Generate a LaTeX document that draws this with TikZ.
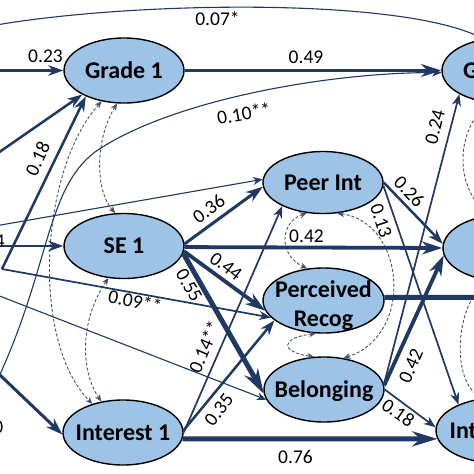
\documentclass[tikz,border=0pt]{standalone}
\usepackage{fontspec}
\setmainfont{Carlito}
\usetikzlibrary{arrows.meta,shapes.geometric}
\definecolor{lnavy}{HTML}{1F3864}
\definecolor{ellfill}{HTML}{9DC3E6}
\definecolor{covc}{HTML}{44546A}
\tikzset{
  var/.style={ellipse, draw=black, line width=1.4pt, fill=ellfill, inner sep=0pt,
    minimum width=120pt, minimum height=65pt,
    font=\fontsize{24}{29}\selectfont\bfseries, text height=15.5pt, text depth=0pt},
  vtext/.style={font=\fontsize{24}{29}\selectfont\bfseries, inner sep=0pt, align=center},
  lab/.style={font=\fontsize{19.5}{23}\selectfont, inner sep=0pt, text height=12.3pt, text depth=0pt},
  pth/.style={draw=lnavy, -{Stealth[length=5pt 4, width=6pt 1.8, inset=1.5pt 1.3]}},
  plain/.style={draw=lnavy},
  wA/.style={line width=1.1pt},
  wAA/.style={line width=1.7pt},
  wB/.style={line width=2.5pt},
  wC/.style={line width=3pt},
  wD/.style={line width=3.8pt},
  wE/.style={line width=5pt},
  cov/.style={draw=covc, line width=0.9pt, dash pattern=on 3pt off 2pt,
    {Stealth[length=7pt,width=6pt]}-{Stealth[length=7pt,width=6pt]}},
}
\begin{document}
\begin{tikzpicture}[x=1pt,y=-1pt]
\useasboundingbox (0,0) rectangle (474,474);
\clip (0,0) rectangle (474,474);
\fill[white] (0,0) rectangle (474,474);

% variables
\node[var] (grade1) at (124,70.5) {\makebox[0pt]{Grade 1}};
\node[var] (se1) at (124,246) {\makebox[0pt]{SE 1}};
\node[var] (int1) at (123,432.5) {\makebox[0pt]{Interest 1}};
\node[var, minimum height=62pt] (peer) at (323,182.5) {\makebox[0pt]{Peer Int}};
\node[var, minimum width=121pt] (recog) at (323.5,300.5) {};
\node[vtext] (recogT) at (323.5,306) {Perceived\\Recog};
\node[var] (bel) at (324,389.5) {\makebox[0pt]{Belonging}};
\node[var] (grade2) at (502,70.5) {\makebox[0pt]{Grade 2}};
\node[var, minimum height=66pt] (se2) at (503,248) {\makebox[0pt]{SE 2}};
\node[var, minimum width=122pt] (int2) at (497,430.5) {\makebox[0pt]{Interest 2}};

% free ends outside the picture
\coordinate (Lg) at (-20,70.5);
\coordinate (Ls) at (-20,246);
\coordinate (Li) at (-20,356);
\coordinate (Lg2) at (-20,165.5);
\coordinate (src) at (2,269);
\coordinate (Lp) at (-20,228.6);
\coordinate (Lb) at (-20,288.4);
\coordinate (c07) at (-30,30);
\coordinate (c10) at (-5,385);
\coordinate (Rr) at (490,297.3);

% correlations (dashed)
\draw[cov] (grade1.234) .. controls (40,170) and (30,340) .. (int1.137);
\draw[cov] (grade1.258) .. controls (95,140) and (95,190) .. (se1.105);
\draw[cov] (se1.244) .. controls (80,320) and (80,370) .. (int1.125);
\draw[cov] (peer.242) .. controls (280,222) and (278,255) .. (recog.117);
\draw[cov] (peer.-65) .. controls (405,222) and (415,335) .. (bel.58);
\draw[cov] (recog.257) .. controls (280,338) and (280,352) .. (bel.107);
\draw[cov] (grade2.250) .. controls (455,130) and (455,190) .. (se2.110);
\draw[cov] (se2.250) .. controls (455,300) and (450,385) .. (int2.110);

% paths from the left
\draw[pth,wB] (Lg) -- (grade1.west);
\draw[pth,wB] (Ls) -- (se1.west);
\draw[pth,wC] (Li) -- (int1.182);
\draw[pth,wB] (Lg2) -- (grade1.210);
\draw[pth,wB] (src) -- (grade1.214);
\draw[pth,wAA] (src) -- (recog.198);
\draw[pth,wA] (Lp) -- (peer.177);
\draw[pth,wA] (Lb) -- (bel.190);
\draw[pth,wA] (c10) .. controls (50,270) and (45,190) .. (95,152)
   .. controls (170,100) and (330,72) .. (grade2.182);
\draw[pth,wA] (c07) .. controls (100,2) and (390,-5) .. (grade2.120);

% paths between variables
\draw[pth,wD] (grade1) -- (grade2);
\draw[pth,wC] (se1.2) -- (peer.184);
\draw[pth,wD] (se1.-1) -- (se2.west);
\draw[pth,wD] (se1.-5) -- (recog.190);
\draw[pth,wE] (se1.-7) -- (bel.184);
\draw[pth,wAA] (int1.east) -- (peer.210);
\draw[pth,wB] (int1.2) -- (recog.202);
\draw[pth,wE] (int1.-6) -- (int2.188);
\draw[pth,wB] (peer.east) -- (se2.176);
\draw[pth,wAA] (peer.-3) -- (int2.146);
\draw[plain,wE] (recog.3) -- (Rr);
\draw[pth,wAA] (bel.5) -- (grade2.209);
\draw[pth,wD] (bel.4) -- (se2.187);
\draw[pth,wAA] (bel.east) -- (int2.177);

% labels
\node[lab] (l023) at (45.5,56) {0.23};
\node[lab,anchor=east] (l4) at (5,241.5) {4};
\node[lab,anchor=east] (l0) at (3.5,427.5) {0};
\node[lab,rotate=65] (l018) at (38,159) {0.18};
\node[lab,rotate=-11] (l009) at (135,302) {0.09**};
\node[lab,rotate=10] (l010) at (244,114) {0.10**};
\node[lab] (l007) at (217.5,19.5) {0.07*};
\node[lab] (l049) at (306,57.5) {0.49};
\node[lab,rotate=36] (l036) at (209,209) {0.36};
\node[lab] (l042a) at (306.5,236.5) {0.42};
\node[lab,rotate=-37] (l044) at (226,266.5) {0.44};
\node[lab,rotate=-60] (l055) at (189,285.5) {0.55};
\node[lab,rotate=67] (l014) at (205,347) {0.14**};
\node[lab,rotate=52] (l035) at (219,410) {0.35};
\node[lab] (l076) at (295.5,457.5) {0.76};
\node[lab,rotate=-46] (l026) at (409,192) {0.26};
\node[lab,rotate=-72] (l013) at (381,221) {0.13};
\node[lab,rotate=76] (l024) at (435,127) {0.24};
\node[lab,rotate=66] (l042b) at (411,366) {0.42};
\node[lab,rotate=-35] (l018b) at (398,413) {0.18};
\end{tikzpicture}
\end{document}
